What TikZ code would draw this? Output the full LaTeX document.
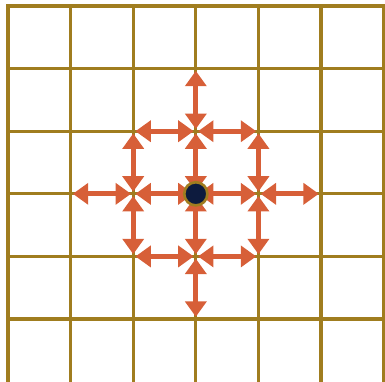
\documentclass[tikz,border=0pt]{standalone}
\usepackage{tikz}
\usetikzlibrary{arrows.meta,positioning}

\definecolor{gridgold}{HTML}{A07D1F}
\definecolor{hoporange}{HTML}{D75F38}
\definecolor{sitenavy}{HTML}{0D1B3E}

\begin{document}
\begin{tikzpicture}[
    hop/.style={{Triangle[length=7pt,width=9.5pt]}-{Triangle[length=7pt,width=9.5pt]},
        line width=2.2pt, hoporange, shorten <=1pt, shorten >=1pt},
    site/.style={circle, fill=sitenavy, draw=gridgold, line width=1.2pt,
        inner sep=0pt, minimum size=0.37cm}
]
    \useasboundingbox (-0.128,0.096) rectangle (6.022,-5.99);

    % Square lattice
    \begin{scope}
        \clip (-0.128,0.096) rectangle (6.022,-5.99);
        \foreach \i in {0,...,6} {
            \draw[gridgold, line width=1.4pt, line cap=rect] (\i,0) -- (\i,-6.3);
        }
        \foreach \j in {0,...,5} {
            \draw[gridgold, line width=1.4pt, line cap=rect] (0,-\j) -- (6,-\j);
        }
    \end{scope}

    % Lattice points
    \foreach \i in {0,...,6} {
        \foreach \j in {0,...,5} {
            \coordinate (p\i\j) at (\i,-\j);
        }
    }

    % Hops between neighbouring sites
    \draw[hop] (p31) -- (p32);
    \draw[hop] (p22) -- (p32);
    \draw[hop] (p32) -- (p42);
    \draw[hop] (p22) -- (p23);
    \draw[hop] (p42) -- (p43);
    \draw[hop] (p32) -- (p33);
    \draw[hop] (p13) -- (p23);
    \draw[hop] (p23) -- (p33);
    \draw[hop] (p33) -- (p43);
    \draw[hop] (p43) -- (p53);
    \draw[hop] (p23) -- (p24);
    \draw[hop] (p33) -- (p34);
    \draw[hop] (p43) -- (p44);
    \draw[hop] (p24) -- (p34);
    \draw[hop] (p34) -- (p44);
    \draw[hop] (p34) -- (p35);

    % Starting site
    \node[site] (start) at (p33) {};
\end{tikzpicture}
\end{document}
